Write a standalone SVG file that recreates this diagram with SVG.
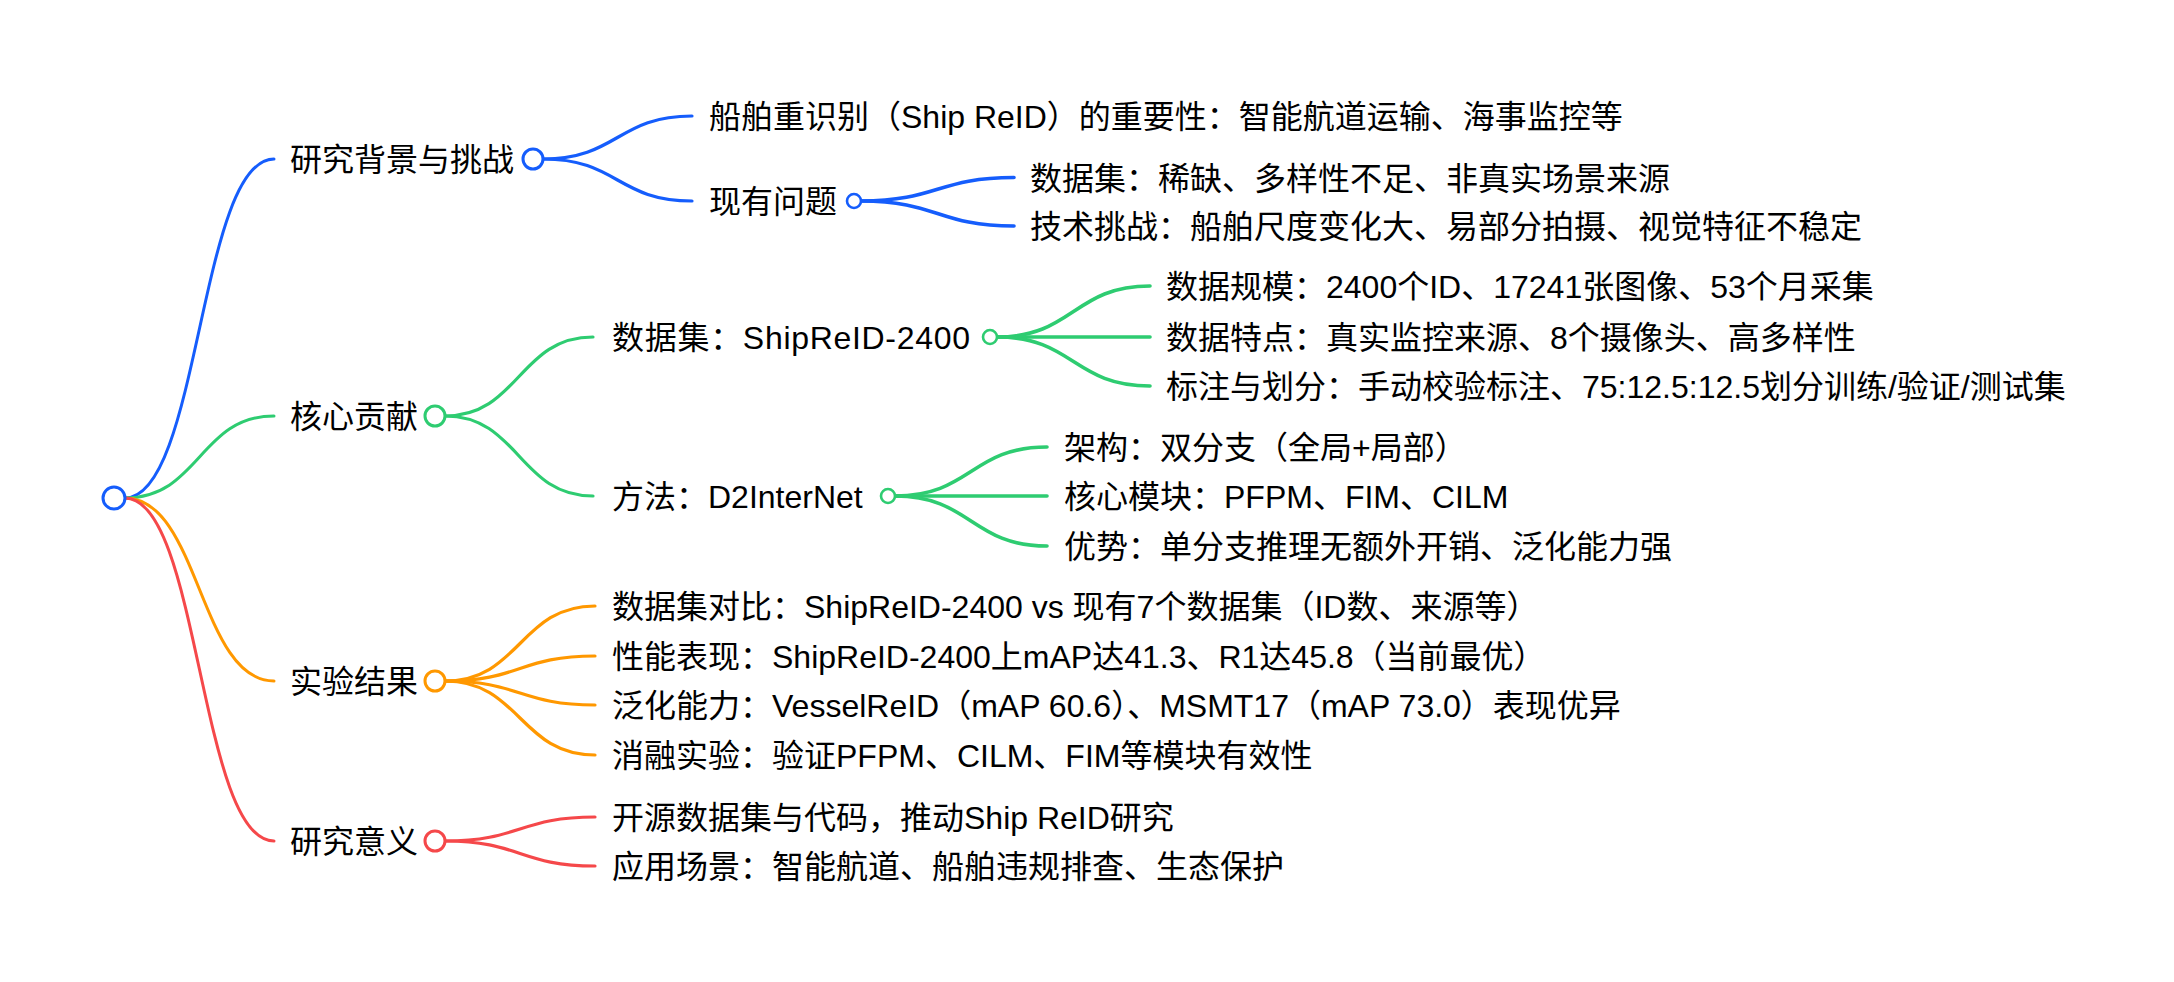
<svg xmlns="http://www.w3.org/2000/svg" width="2174" height="982" viewBox="0 0 2174 982">
<style>
text{font-family:"Liberation Sans","Noto Sans CJK SC",sans-serif;font-size:32px;fill:#000;}
.lk{fill:none;stroke-linecap:round;}
.b{stroke:#155DFC;}
.g{stroke:#2ECC71;}
.o{stroke:#FF9800;}
.r{stroke:#F5484A;}
.w0{stroke-width:3;}
.w1{stroke-width:3.2;}
.w2{stroke-width:3.6;}
circle{fill:#fff;}
.c1{stroke-width:3;}
.c2{stroke-width:2.6;}
</style>
<rect width="2174" height="982" fill="#fff"/>
<g id="connectors">
<path class="lk b w0" d="M125,498 C199.5,498 199.5,159 274,159"/>
<path class="lk g w0" d="M125,498 C199.5,498 199.5,416 274,416"/>
<path class="lk o w0" d="M125,498 C199.5,498 199.5,681 274,681"/>
<path class="lk r w0" d="M125,498 C199.5,498 199.5,841 274,841"/>
<path class="lk b w1" d="M543,159 C617.5,159 617.5,116 692,116"/>
<path class="lk b w1" d="M543,159 C617.5,159 617.5,201 692,201"/>
<path class="lk b w2" d="M861,201 C937.5,201 937.5,177.5 1014,177.5"/>
<path class="lk b w2" d="M861,201 C937.5,201 937.5,226 1014,226"/>
<path class="lk g w1" d="M445,416 C519,416 519,337 593,337"/>
<path class="lk g w1" d="M445,416 C519,416 519,496 593,496"/>
<path class="lk g w2" d="M997,337 C1073.5,337 1073.5,286 1150,286"/>
<path class="lk g w2" d="M997,337 C1073.5,337 1073.5,337 1150,337"/>
<path class="lk g w2" d="M997,337 C1073.5,337 1073.5,386 1150,386"/>
<path class="lk g w2" d="M895,496 C971,496 971,447 1047,447"/>
<path class="lk g w2" d="M895,496 C971,496 971,496 1047,496"/>
<path class="lk g w2" d="M895,496 C971,496 971,546 1047,546"/>
<path class="lk o w1" d="M445,681 C520,681 520,606 595,606"/>
<path class="lk o w1" d="M445,681 C520,681 520,656 595,656"/>
<path class="lk o w1" d="M445,681 C520,681 520,705 595,705"/>
<path class="lk o w1" d="M445,681 C520,681 520,755 595,755"/>
<path class="lk r w1" d="M445,841 C520,841 520,817 595,817"/>
<path class="lk r w1" d="M445,841 C520,841 520,866 595,866"/>
</g>
<g id="root"><circle class="c1" cx="114" cy="498" r="11" stroke="#155DFC"/></g>
<g id="n1"><text x="290" y="171">研究背景与挑战</text><circle class="c1" cx="533" cy="159" r="10" stroke="#155DFC"/></g>
<g id="n1-1"><text x="709" y="128">船舶重识别（Ship ReID）的重要性：智能航道运输、海事监控等</text></g>
<g id="n1-2"><text x="709" y="213">现有问题</text><circle class="c2" cx="854" cy="201" r="7" stroke="#155DFC"/></g>
<g id="n1-2-1"><text x="1030" y="189.5">数据集：稀缺、多样性不足、非真实场景来源</text></g>
<g id="n1-2-2"><text x="1030" y="238">技术挑战：船舶尺度变化大、易部分拍摄、视觉特征不稳定</text></g>
<g id="n2"><text x="290" y="428">核心贡献</text><circle class="c1" cx="435" cy="416" r="10" stroke="#2ECC71"/></g>
<g id="n2-1"><text x="612" y="349" textLength="358">数据集：ShipReID-2400</text><circle class="c2" cx="990" cy="337" r="7" stroke="#2ECC71"/></g>
<g id="n2-1-1"><text x="1166" y="298">数据规模：2400个ID、17241张图像、53个月采集</text></g>
<g id="n2-1-2"><text x="1166" y="349">数据特点：真实监控来源、8个摄像头、高多样性</text></g>
<g id="n2-1-3"><text x="1166" y="398">标注与划分：手动校验标注、75:12.5:12.5划分训练/验证/测试集</text></g>
<g id="n2-2"><text x="612" y="508">方法：D2InterNet</text><circle class="c2" cx="888" cy="496" r="7" stroke="#2ECC71"/></g>
<g id="n2-2-1"><text x="1064" y="459">架构：双分支（全局+局部）</text></g>
<g id="n2-2-2"><text x="1064" y="508">核心模块：PFPM、FIM、CILM</text></g>
<g id="n2-2-3"><text x="1064" y="558">优势：单分支推理无额外开销、泛化能力强</text></g>
<g id="n3"><text x="290" y="693">实验结果</text><circle class="c1" cx="435" cy="681" r="10" stroke="#FF9800"/></g>
<g id="n3-1"><text x="612" y="618">数据集对比：ShipReID-2400 vs 现有7个数据集（ID数、来源等）</text></g>
<g id="n3-2"><text x="612" y="668">性能表现：ShipReID-2400上mAP达41.3、R1达45.8（当前最优）</text></g>
<g id="n3-3"><text x="612" y="717">泛化能力：VesselReID（mAP 60.6）、MSMT17（mAP 73.0）表现优异</text></g>
<g id="n3-4"><text x="612" y="767">消融实验：验证PFPM、CILM、FIM等模块有效性</text></g>
<g id="n4"><text x="290" y="853">研究意义</text><circle class="c1" cx="435" cy="841" r="10" stroke="#F5484A"/></g>
<g id="n4-1"><text x="612" y="829">开源数据集与代码，推动Ship ReID研究</text></g>
<g id="n4-2"><text x="612" y="878">应用场景：智能航道、船舶违规排查、生态保护</text></g>
</svg>
